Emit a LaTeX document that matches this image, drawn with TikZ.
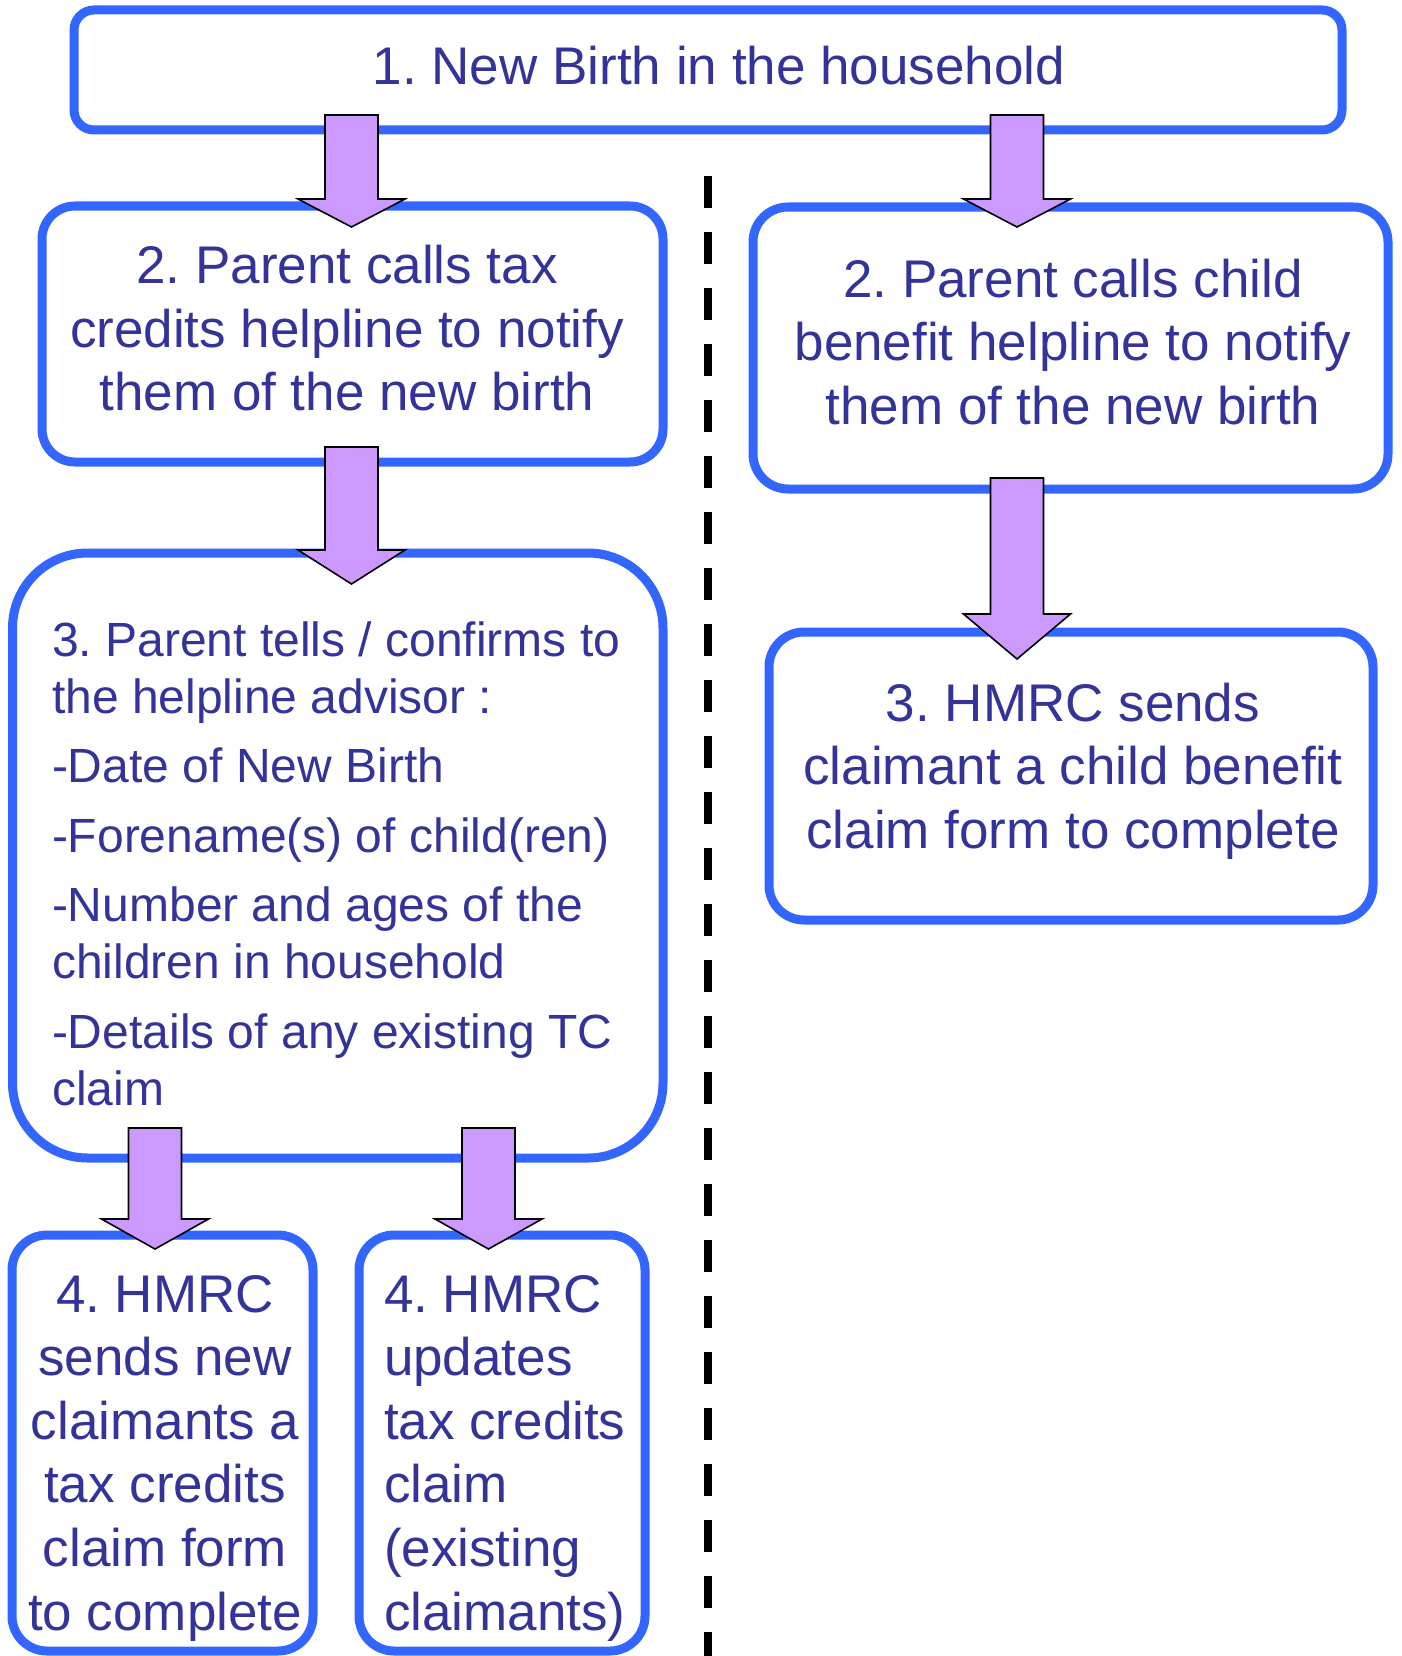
\documentclass[tikz,border=0pt]{standalone}
\usepackage{fontspec}
\setmainfont{Liberation Sans}
\frenchspacing
\usetikzlibrary{calc}
\definecolor{boxblue}{HTML}{3366FF}
\definecolor{txtblue}{HTML}{333399}
\definecolor{arrowfill}{HTML}{CC99FF}
\newcommand\bigtxt{\fontsize{53}{63.6}\selectfont\frenchspacing}
\newcommand\midtxt{\fontsize{48}{57}\selectfont\frenchspacing}
% block arrow from start coordinate #1 to tip coordinate #2, head length #3
\newcommand\blockarrow[3]{%
  \draw[arrowstyle] let \p1=(#1), \p2=(#2) in
    (\x1-26.5pt,\y1) -- (\x1+26.5pt,\y1) -- (\x1+26.5pt,\y2+#3pt)
    -- (\x1+53.5pt,\y2+#3pt) -- (\x1,\y2) -- (\x1-53.5pt,\y2+#3pt)
    -- (\x1-26.5pt,\y2+#3pt) -- cycle;}
\begin{document}
\begin{tikzpicture}[x=1pt,y=-1pt,
  stepbox/.style={draw=boxblue, line width=9pt, fill=white, rectangle,
    inner sep=0pt, outer sep=0pt},
  txtstyle/.style={text=txtblue, inner sep=0pt, outer sep=0pt, font=\bigtxt},
  arrowstyle/.style={fill=arrowfill, draw=black, line width=1.6pt, line join=miter},
  divider/.style={draw=black, line width=8pt, dash pattern=on 32pt off 24pt}]
\useasboundingbox (0,0) rectangle (1401,1656);

% boxes
\node[stepbox, rounded corners=20pt, minimum width=1268pt, minimum height=120pt] (b1) at (708,70) {};
\node[stepbox, rounded corners=33pt, minimum width=621pt, minimum height=256pt] (b2l) at (352.5,334) {};
\node[stepbox, rounded corners=35pt, minimum width=635pt, minimum height=282pt] (b2r) at (1070.5,348) {};
\node[stepbox, rounded corners=75pt, minimum width=650.5pt, minimum height=605pt] (b3l) at (337.75,855.5) {};
\node[stepbox, rounded corners=35pt, minimum width=604pt, minimum height=288pt] (b3r) at (1071,776) {};
\node[stepbox, rounded corners=35pt, minimum width=301pt, minimum height=416pt] (b4a) at (162.5,1443) {};
\node[stepbox, rounded corners=35pt, minimum width=286pt, minimum height=416pt] (b4b) at (502,1443) {};

% divider
\coordinate (dtop) at (707.5,176);
\coordinate (dbot) at (707.5,1690);
\draw[divider] (dtop) -- (dbot);

% arrow end points
\coordinate (a1s) at (351.5,115);  \coordinate (a1e) at (351.5,227);
\coordinate (a2s) at (351.5,447);  \coordinate (a2e) at (351.5,584);
\coordinate (ar1s) at (1017,115);  \coordinate (ar1e) at (1017,227);
\coordinate (ar2s) at (1017,478);  \coordinate (ar2e) at (1017,659);
\coordinate (a4as) at (155,1128);  \coordinate (a4ae) at (155,1249);
\coordinate (a4bs) at (488.5,1128); \coordinate (a4be) at (488.5,1249);

\blockarrow{a1s}{a1e}{28}
\blockarrow{a2s}{a2e}{34}
\blockarrow{ar1s}{ar1e}{28}
\blockarrow{ar2s}{ar2e}{45}
\blockarrow{a4as}{a4ae}{30}
\blockarrow{a4bs}{a4be}{30}

% texts
\node[txtstyle, anchor=base] (t1) at (719,85) {1. New Birth in the household};
\node[txtstyle, anchor=base] (t2l) at (347,283.5)
  {\begin{tabular}[t]{@{}c@{}}2. Parent calls tax\\credits helpline to notify\\them of the new birth\end{tabular}};
\node[txtstyle, anchor=base] (t2r) at (1073,297)
  {\begin{tabular}[t]{@{}c@{}}2. Parent calls child\\benefit helpline to notify\\them of the new birth\end{tabular}};
\node[txtstyle, anchor=base] (t3r) at (1073,721)
  {\begin{tabular}[t]{@{}c@{}}3. HMRC sends\\claimant a child benefit\\claim form to complete\end{tabular}};
\node[txtstyle, font=\midtxt, anchor=base west] (t3l) at (52,656)
  {\begin{tabular}[t]{@{}l@{}}3. Parent tells / confirms to\\the helpline advisor :\\[12.5pt]
   -Date of New Birth\\[12.5pt]
   -Forename(s) of child(ren)\\[12.5pt]
   -Number and ages of the\\children in household\\[13pt]
   -Details of any existing TC\\claim\end{tabular}};
\node[txtstyle, anchor=base] (t4a) at (165,1312)
  {\begin{tabular}[t]{@{}c@{}}4. HMRC\\sends new\\claimants a\\tax credits\\claim form\\to complete\end{tabular}};
\node[txtstyle, anchor=base west] (t4b) at (384,1312)
  {\begin{tabular}[t]{@{}l@{}}4. HMRC\\updates\\tax credits\\claim\\(existing\\claimants)\end{tabular}};
\end{tikzpicture}
\end{document}
